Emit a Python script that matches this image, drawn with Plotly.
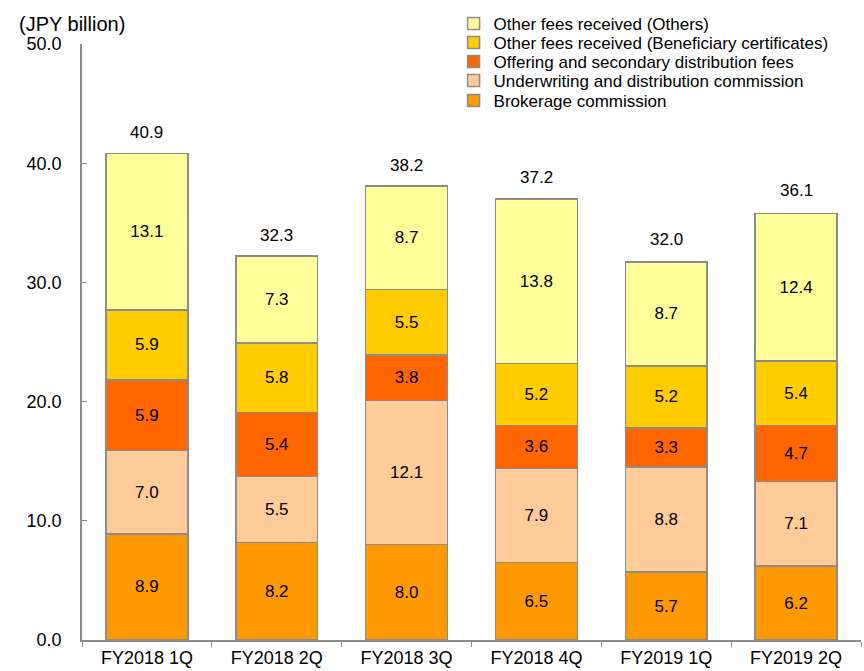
import plotly.graph_objects as go

categories = ["FY2018 1Q", "FY2018 2Q", "FY2018 3Q", "FY2018 4Q", "FY2019 1Q", "FY2019 2Q"]
brokerage = [8.9, 8.2, 8.0, 6.5, 5.7, 6.2]
underwriting = [7.0, 5.5, 12.1, 7.9, 8.8, 7.1]
offering = [5.9, 5.4, 3.8, 3.6, 3.3, 4.7]
beneficiary = [5.9, 5.8, 5.5, 5.2, 5.2, 5.4]
others = [13.1, 7.3, 8.7, 13.8, 8.7, 12.4]
totals = [40.9, 32.3, 38.2, 37.2, 32.0, 36.1]
y_ticks = [0, 10, 20, 30, 40, 50]

series = [
    ("Brokerage commission", brokerage, "#FF9900"),
    ("Underwriting and distribution commission", underwriting, "#FFCC99"),
    ("Offering and secondary distribution fees", offering, "#FF6600"),
    ("Other fees received (Beneficiary certificates)", beneficiary, "#FFCC00"),
    ("Other fees received (Others)", others, "#FFFF99"),
]

FONT = "Liberation Sans, Arial, sans-serif"
GRAY = "#8C8C8C"

# each series gets its own legend so the rows can sit as tightly as in the reference
legend_ids = ["legend5", "legend4", "legend3", "legend2", "legend"]
legend_y = [0.9045, 0.938, 0.9698, 1.0017, 1.0335]

fig = go.Figure()
for (name, vals, color), lid in zip(series, legend_ids):
    fig.add_trace(go.Bar(
        x=categories, y=vals, name=name, legend=lid,
        marker=dict(color=color, line=dict(color=GRAY, width=1.5)),
        texttemplate="%{y:.1f}", textposition="inside", insidetextanchor="middle",
        textangle=0, textfont=dict(family=FONT, size=17, color="black"),
        hoverinfo="skip",
    ))

for c, t in zip(categories, totals):
    fig.add_annotation(x=c, y=t, text=f"{t:.1f}", showarrow=False, yanchor="bottom", yshift=8,
                       font=dict(family=FONT, size=17, color="black"))

fig.add_annotation(xref="paper", yref="paper", x=-0.0834, y=1.033, xanchor="left", yanchor="middle",
                   text="(JPY billion)", showarrow=False, font=dict(family=FONT, size=20, color="black"))

layout_legends = {}
for lid, ly in zip(legend_ids, legend_y):
    layout_legends[lid] = dict(x=0.477, y=ly, xanchor="left", yanchor="middle",
                               bgcolor="rgba(0,0,0,0)", font=dict(family=FONT, size=17, color="black"),
                               itemwidth=30)

fig.update_layout(
    template="none",
    barmode="stack", bargap=0.37,
    width=864, height=671,
    margin=dict(l=82, r=3, t=44, b=31),
    plot_bgcolor="white", paper_bgcolor="white",
    font=dict(family=FONT, size=17, color="black"),
    uniformtext=dict(minsize=17, mode="show"),
    showlegend=True,
    **layout_legends,
)
fig.update_xaxes(showline=True, linecolor=GRAY, linewidth=1.5, ticks="outside", tickson="boundaries",
                 ticklen=5, tickcolor=GRAY, tickwidth=1, showgrid=False, automargin=False,
                 tickfont=dict(family=FONT, size=18, color="black"), ticklabelstandoff=1)
fig.update_yaxes(range=[0, 50], tickvals=y_ticks, tickformat=".1f", showline=True, linecolor=GRAY,
                 linewidth=1.5, ticks="inside", ticklen=5, tickcolor=GRAY, showgrid=False, zeroline=False,
                 automargin=False, tickfont=dict(family=FONT, size=18, color="black"), ticklabelstandoff=15)

fig.write_html("out.html")
